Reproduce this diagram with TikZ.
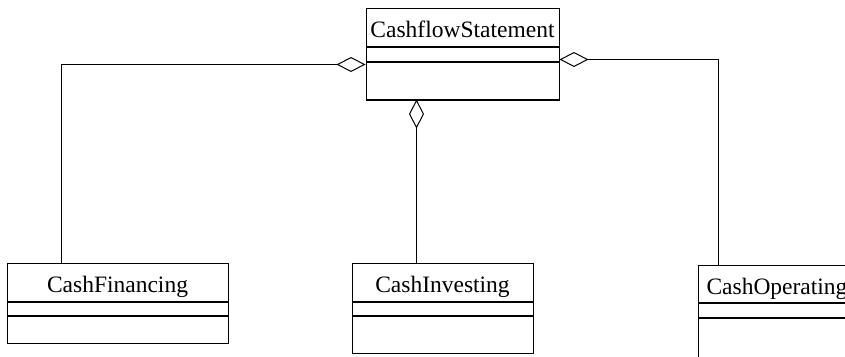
\documentclass[tikz,border=0pt]{standalone}
\usepackage{fontspec}
\setmainfont{Liberation Serif}
\usepackage{tikz}
\usetikzlibrary{positioning,arrows.meta}

\tikzset{
  classname/.style={draw,inner sep=0pt,line width=1pt,text height=23pt,text depth=2pt,font=\fontsize{23.5}{26}\selectfont},
  classpart/.style={draw,inner sep=0pt,line width=1pt},
  aggr/.style={line width=1pt,{Diamond[open,length=29pt,width=15pt,line width=1pt]}-}
}

\begin{document}
\begin{tikzpicture}[x=1pt,y=-1pt]%
                \useasboundingbox (0,0) rectangle (845,356);
                \begin{scope}
                \clip (0,0) rectangle (845,356);

                % whole statement
                \node[classname,minimum width=193pt,minimum height=38pt] (mainname) at (462.5,27) {CashflowStatement};
                \node[classpart,minimum width=193pt,minimum height=14pt,below=0pt of mainname] (mainattr) {};
                \node[classpart,minimum width=193pt,minimum height=37pt,below=0pt of mainattr] (mainops) {};
                \draw[line width=2pt] (mainops.south west) -- (mainops.south east);

                % the three parts
                \node[classname,minimum width=221pt,minimum height=38pt] (finname) at (117.5,282) {CashFinancing};
                \node[classpart,minimum width=221pt,minimum height=13pt,below=0pt of finname] (finattr) {};
                \node[classpart,minimum width=221pt,minimum height=27pt,below=0pt of finattr] (finops) {};

                \node[classname,minimum width=181pt,minimum height=38pt] (invname) at (442.5,282) {CashInvesting};
                \node[classpart,minimum width=181pt,minimum height=13pt,below=0pt of invname] (invattr) {};
                \node[classpart,minimum width=181pt,minimum height=37pt,below=0pt of invattr] (invops) {};

                \node[classname,minimum width=180pt,minimum height=37pt,anchor=north west,align=left,text width=164pt,inner xsep=8pt] (opname) at (698,265) {CashOperating};
                \node[classpart,minimum width=180pt,minimum height=14pt,below=0pt of opname] (opattr) {};
                \node[classpart,minimum width=180pt,minimum height=60pt,below=0pt of opattr] (opops) {};

                % aggregations
                \draw [aggr] ([yshift=-3pt]mainops.north west) -| ([xshift=-56.5pt]finname.north);
                \draw [aggr] ([xshift=-46pt]mainops.south) -- ([xshift=-26pt]invname.north);
                \draw [aggr] ([yshift=2pt]mainattr.south east) -| ([xshift=20.5pt]opname.north west);
                \end{scope}
            \end{tikzpicture}
\end{document}
